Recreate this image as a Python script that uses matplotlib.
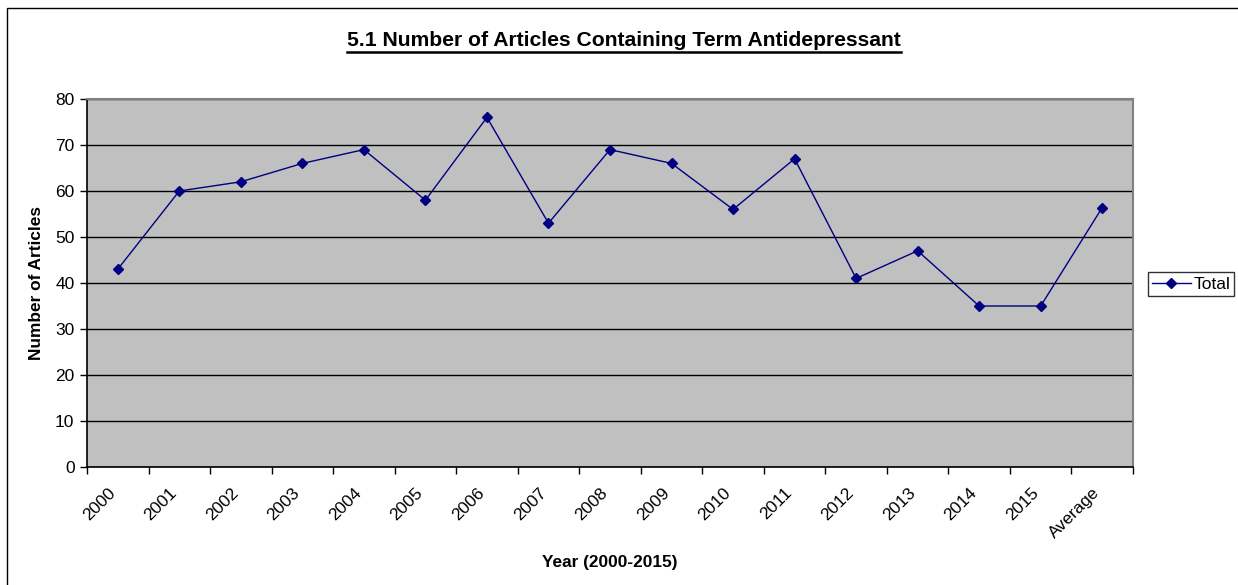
import matplotlib
matplotlib.use("Agg")
import matplotlib.pyplot as plt
import matplotlib.transforms as mtransforms
from matplotlib.lines import Line2D
from matplotlib.patches import Rectangle

plt.rcParams['font.family'] = ['Liberation Sans', 'DejaVu Sans']

# data
years = ['2000', '2001', '2002', '2003', '2004', '2005', '2006', '2007', '2008',
         '2009', '2010', '2011', '2012', '2013', '2014', '2015', 'Average']
totals = [43, 60, 62, 66, 69, 58, 76, 53, 69, 66, 56, 67, 41, 47, 35, 35, 56.4]

W, H = 1238, 585
fig = plt.figure(figsize=(W / 100, H / 100), dpi=100)

# outer chart border (left and top visible)
fig.add_artist(Rectangle((7 / W, -0.1), 1.2, 1.1 - 8 / H, transform=fig.transFigure,
                         fill=False, edgecolor='black', linewidth=1.0))

ax = fig.add_axes([87 / W, 1 - 467 / H, (1133 - 87) / W, (467 - 99) / H])
ax.set_facecolor('#c0c0c0')

x = list(range(len(years)))
ax.plot(x, totals, color='#000080', linewidth=1.0, marker='D', markersize=5.5,
        label='Total', zorder=3)

ax.set_xlim(-0.5, len(years) - 0.5)
ax.set_ylim(0, 80)
ax.set_yticks(range(0, 81, 10))
ax.yaxis.grid(True, color='black', linewidth=1.0)
ax.set_axisbelow(True)

ax.set_xticks(x)
ax.set_xticklabels(years, rotation=45, ha='right', rotation_mode='anchor', fontsize=12.5)
ax.tick_params(axis='x', which='major', length=0, pad=13)
shift = mtransforms.ScaledTranslation(-10 / 100, 0, fig.dpi_scale_trans)
for lbl in ax.get_xticklabels():
    lbl.set_transform(lbl.get_transform() + shift)
ax.set_xticks([i - 0.5 for i in range(len(years) + 1)], minor=True)
ax.tick_params(axis='x', which='minor', length=5, width=1, color='black')
ax.tick_params(axis='y', length=5, width=1, labelsize=12.5, pad=4)

for side in ['top', 'right']:
    ax.spines[side].set_color('#808080')
    ax.spines[side].set_linewidth(1.5)
for side in ['left', 'bottom']:
    ax.spines[side].set_color('black')
    ax.spines[side].set_linewidth(1.2)

fig.text(37 / W, 1 - 283 / H, 'Number of Articles', rotation=90, ha='center', va='center',
         fontsize=12.4, fontweight='bold')
fig.text(610 / W, 1 - 562 / H, 'Year (2000-2015)', ha='center', va='center',
         fontsize=12.4, fontweight='bold')

title = fig.text(624 / W, 1 - 40 / H, '5.1 Number of Articles Containing Term Antidepressant',
                 ha='center', va='center', fontsize=15.2, fontweight='bold')
fig.canvas.draw()
bb = title.get_window_extent().transformed(fig.transFigure.inverted())
fig.add_artist(Line2D([bb.x0, bb.x1], [1 - 52 / H, 1 - 52 / H], transform=fig.transFigure,
                      color='black', linewidth=1.8))

leg = fig.legend(loc='center left', bbox_to_anchor=(1148 / W, 1 - 284 / H), fontsize=12.5,
                 frameon=True, fancybox=False, edgecolor='black', handlelength=2.2,
                 borderpad=0.25, handletextpad=0.15, borderaxespad=0)
leg.get_frame().set_linewidth(1.0)

fig.savefig('out.png', dpi=100)
